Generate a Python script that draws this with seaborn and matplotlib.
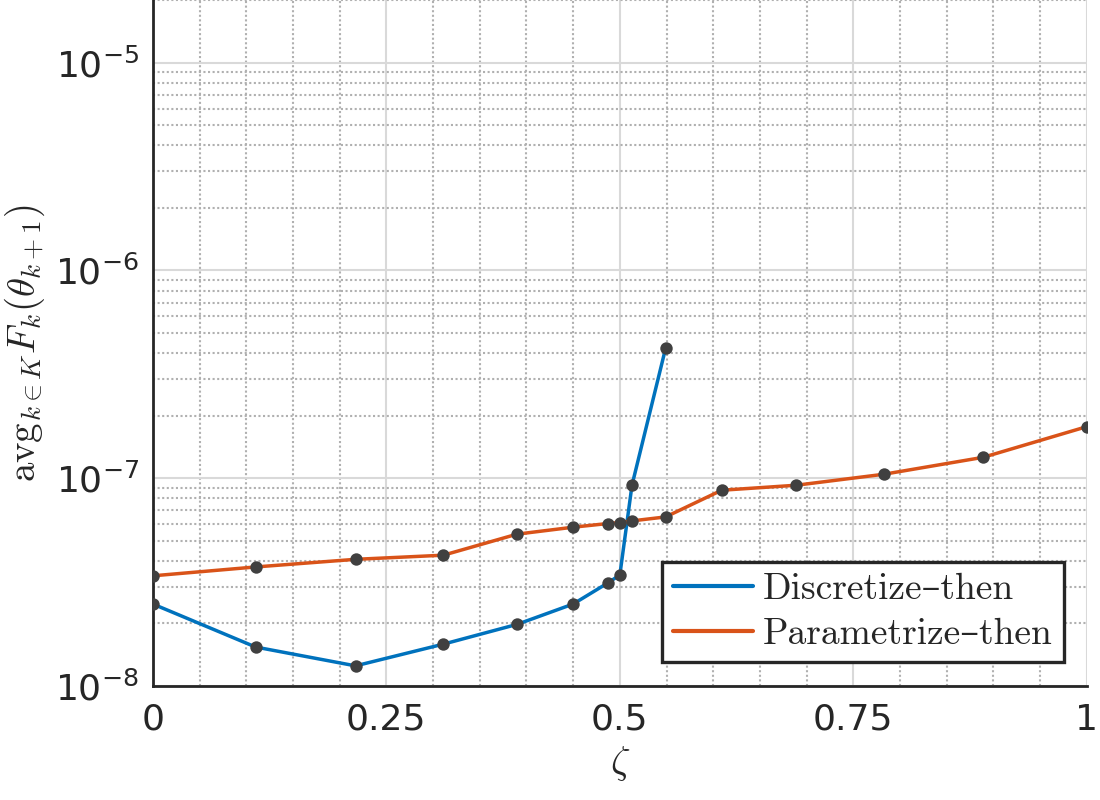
import numpy as np
import pandas as pd
import seaborn as sns
import matplotlib.pyplot as plt
from matplotlib import ticker

# values
zeta_disc = [0.0, 0.110, 0.217, 0.311, 0.390, 0.450, 0.487, 0.500, 0.513, 0.549]
val_disc = [2.48e-8, 1.54e-8, 1.25e-8, 1.59e-8, 1.98e-8, 2.48e-8, 3.13e-8, 3.42e-8, 9.25e-8, 4.22e-7]

zeta_param = [0.0, 0.110, 0.217, 0.311, 0.390, 0.450, 0.487, 0.500, 0.513, 0.549,
              0.609, 0.689, 0.783, 0.889, 1.0]
val_param = [3.39e-8, 3.74e-8, 4.07e-8, 4.26e-8, 5.38e-8, 5.81e-8, 6.05e-8, 6.12e-8, 6.23e-8, 6.51e-8,
             8.75e-8, 9.25e-8, 1.045e-7, 1.26e-7, 1.77e-7]

methods = ['Discretize–then', 'Parametrize–then']
colors = ['#0072BD', '#D95319']
xtick_vals = [0, 0.25, 0.5, 0.75, 1]
xtick_labels = ['0', '0.25', '0.5', '0.75', '1']

df = pd.concat([
    pd.DataFrame({'zeta': zeta_disc, 'val': val_disc, 'method': methods[0]}),
    pd.DataFrame({'zeta': zeta_param, 'val': val_param, 'method': methods[1]}),
], ignore_index=True)

sns.set_theme(style='white')
plt.rcParams['font.family'] = ['DejaVu Sans']
plt.rcParams['mathtext.fontset'] = 'cm'
plt.rcParams['axes.unicode_minus'] = False

fig = plt.figure(figsize=(11, 8), dpi=100)
ax = fig.add_axes([0.139, 0.1425, 0.849, 0.8575])

sns.lineplot(data=df, x='zeta', y='val', hue='method', palette=dict(zip(methods, colors)),
             estimator=None, sort=False, linewidth=2.5, ax=ax, zorder=3)
sns.scatterplot(data=df, x='zeta', y='val', color='#404040', s=80, linewidth=0,
                legend=False, ax=ax, zorder=4)

ax.set_yscale('log')
ax.set_xlim(0, 1)
ax.set_ylim(1e-8, 2e-5)

ax.set_xticks(xtick_vals)
ax.set_xticklabels(xtick_labels)
ax.xaxis.set_minor_locator(ticker.MultipleLocator(0.05))
ax.yaxis.set_major_locator(ticker.LogLocator(base=10, numticks=10))
ax.yaxis.set_minor_locator(ticker.LogLocator(base=10, subs=np.arange(2, 10), numticks=20))
ax.yaxis.set_minor_formatter(ticker.NullFormatter())

ax.grid(True, which='major', color='#d9d9d9', linestyle='-', linewidth=1.5)
ax.grid(True, which='minor', color='#b0b0b0', linestyle=(0, (1, 1.2)), linewidth=1.5)
ax.set_axisbelow(True)

for s in ['top', 'right']:
    ax.spines[s].set_visible(False)
for s in ['left', 'bottom']:
    ax.spines[s].set_color('#262626')
    ax.spines[s].set_linewidth(2)

ax.tick_params(axis='both', which='major', direction='in', length=8, width=1.6,
               color='#262626', labelsize=26, labelcolor='#262626')
ax.tick_params(axis='x', which='major', pad=12)
ax.tick_params(axis='y', which='major', pad=10)
ax.tick_params(axis='y', which='minor', direction='in', length=5, width=1.4, color='#262626')
ax.tick_params(axis='x', which='minor', length=0)

ax.set_xlabel(r'$\zeta$', fontsize=28)
ax.set_ylabel(r'$\mathrm{avg}_{k\in K}F_k(\theta_{k+1})$', fontsize=28)
ax.xaxis.set_label_coords(0.5, -0.085)
ax.yaxis.set_label_coords(-0.113, 0.5)

leg = ax.legend(loc='lower right', bbox_to_anchor=(0.9754, 0.035), borderaxespad=0,
                prop={'family': ['cmr10', 'DejaVu Serif'], 'size': 27},
                frameon=True, fancybox=False, handlelength=2.15, handletextpad=0.25,
                labelspacing=0.3, borderpad=0.3)
leg.get_frame().set_edgecolor('#262626')
leg.get_frame().set_linewidth(2.4)
leg.get_frame().set_facecolor('white')
leg.get_frame().set_alpha(1)
leg.set_zorder(5)
for line in leg.get_lines():
    line.set_linewidth(3)

fig.savefig('out.png', dpi=100)
